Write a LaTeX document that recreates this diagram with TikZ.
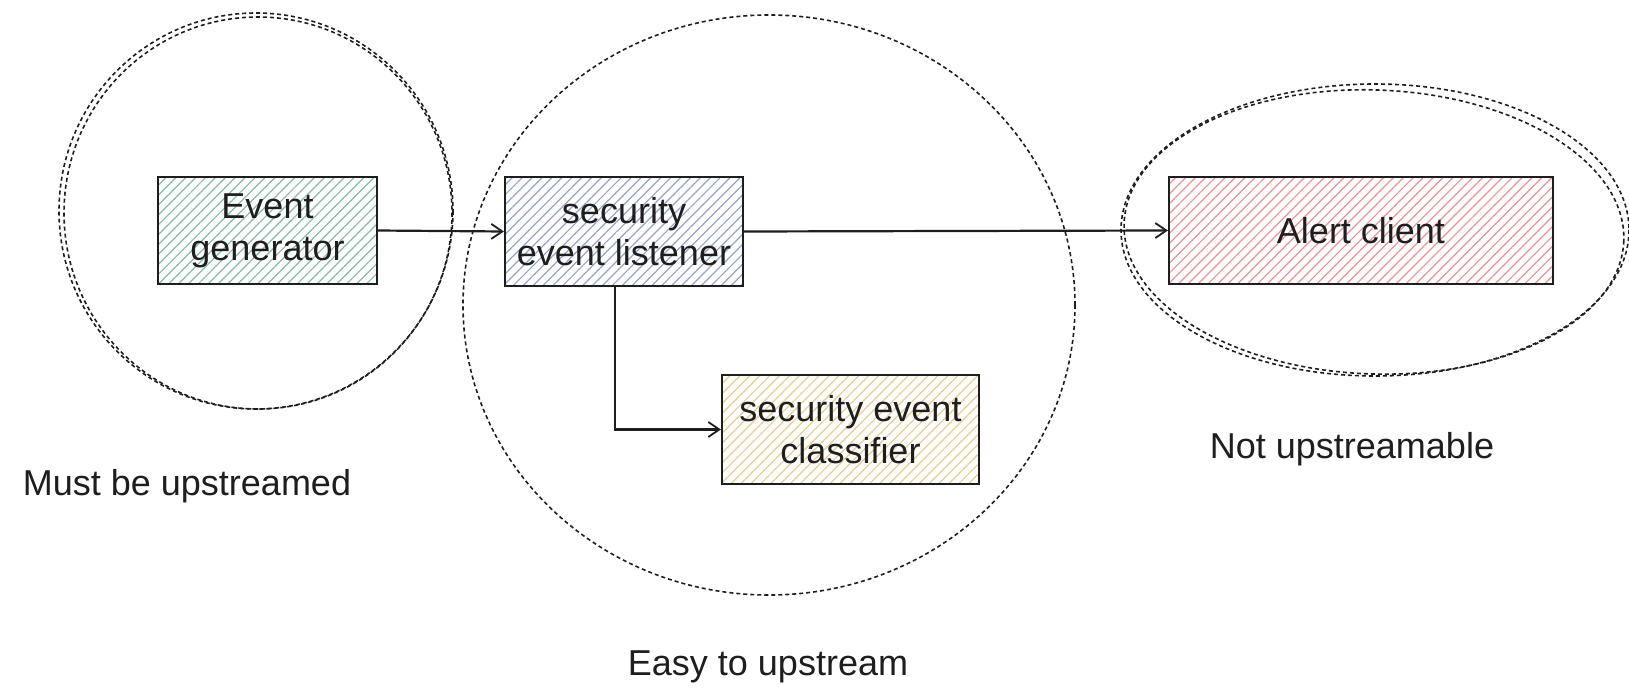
\documentclass[tikz,border=0pt]{standalone}
\usepackage{fontspec}
\setmainfont{Liberation Sans}
\usetikzlibrary{arrows.meta,patterns.meta,positioning}

\definecolor{hgreen}{HTML}{86BBA7}
\definecolor{hblue}{HTML}{93A3CB}
\definecolor{hred}{HTML}{EC9292}
\definecolor{hsand}{HTML}{EACB90}
\definecolor{ink}{HTML}{1E1E1E}

\tikzset{
  comp/.style={draw=ink, line width=2.2pt, align=center, inner sep=0pt,
    font=\fontsize{36}{42}\selectfont, text=ink},
  hatch/.style={pattern={Lines[angle=45,distance=7pt,line width=1.2pt]}, pattern color=#1},
  arr/.style={draw=ink, line width=2.2pt, -{Straight Barb[length=11pt,width=15pt,line width=1.8pt]}},
  zone/.style={draw=ink, line width=1.6pt, dash pattern=on 4pt off 3pt},
  caption/.style={font=\fontsize{36}{42}\selectfont, text=ink, anchor=base}
}

\begin{document}
\begin{tikzpicture}[x=1pt,y=-1pt]
  \useasboundingbox (0,0) rectangle (1629,690);

  % grouping outlines
  \draw[zone] (256,211) ellipse [x radius=197, y radius=198];
  \draw[zone] (258,213) ellipse [x radius=194, y radius=196];
  \draw[zone] (769,305) ellipse [x radius=306, y radius=290];
  \draw[zone] (1375,230) ellipse [x radius=254, y radius=146];
  \draw[zone, rotate around={-2:(1375,230)}] (1374,232) ellipse [x radius=250, y radius=142];

  % components
  \node[comp, hatch=hgreen, minimum width=219pt, minimum height=107pt]
    (gen) at (267.5,230.5) {Event\\generator};
  \node[comp, hatch=hblue, minimum width=238pt, minimum height=109pt]
    (listener) at (624,231.5) {security\\event listener};
  \node[comp, hatch=hred, minimum width=384pt, minimum height=107pt]
    (alert) at (1361,230.5) {Alert client};
  \node[comp, hatch=hsand, minimum width=257pt, minimum height=109pt]
    (classifier) at (850.5,429.5) {security event\\classifier};

  % flows
  \draw[arr] (gen.east) -- (listener.west);
  \draw[arr] (listener.east) -- (alert.west);
  \draw[arr] ([xshift=-9pt]listener.south) |- (classifier.west);

  % group captions
  \node[caption] (must) at (187,495) {Must be upstreamed};
  \node[caption] (easy) at (768,675) {Easy to upstream};
  \node[caption] (notup) at (1352,458) {Not upstreamable};
\end{tikzpicture}
\end{document}
